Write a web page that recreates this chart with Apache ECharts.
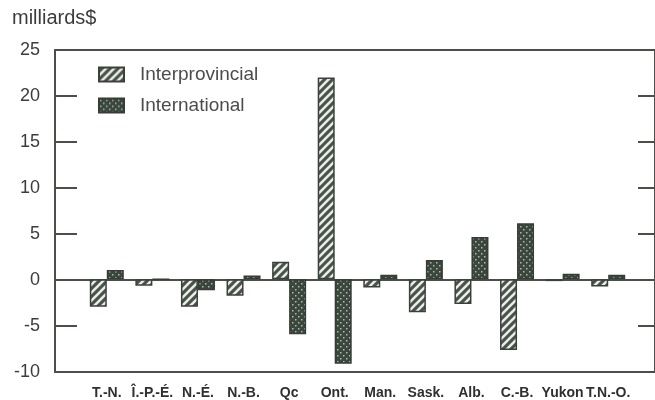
<!DOCTYPE html>
<html><head><meta charset="utf-8">
<script src="https://cdn.jsdelivr.net/npm/echarts@6/dist/echarts.min.js"></script>
<style>html,body{margin:0;padding:0;background:#fff}#c{width:655px;height:400px}</style>
</head><body><div id="c"></div>
<script>
// ---- data ----
const categories = ['T.-N.', 'Î.-P.-É.', 'N.-É.', 'N.-B.', 'Qc', 'Ont.', 'Man.', 'Sask.', 'Alb.', 'C.-B.', 'Yukon', 'T.N.-O.'];
const interprovincial = [-3.0, -0.7, -3.0, -1.8, 1.9, 22.0, -0.9, -3.6, -2.7, -7.7, -0.2, -0.8];
const international   = [1.0, 0.0, -1.2, 0.4, -6.0, -9.2, 0.5, 2.1, 4.6, 6.1, 0.6, 0.5];
const seriesNames = ['Interprovincial', 'International'];
const yMin = -10, yMax = 25, yStep = 5;
const unitLabel = 'milliards$';

// ---- styles ----
const FONT = '"Liberation Sans", Arial, sans-serif';
const LINE = '#4a4f4a';
const TEXT = '#3a3d3a';

function hatchPattern() {
  const c = document.createElement('canvas'); c.width = 8; c.height = 8;
  const g = c.getContext('2d');
  g.fillStyle = '#4a524b'; g.fillRect(0, 0, 8, 8);
  g.strokeStyle = '#e9ece9'; g.lineWidth = 2.6;
  g.beginPath();
  g.moveTo(-2, 10); g.lineTo(10, -2);
  g.moveTo(-2, 2); g.lineTo(2, -2);
  g.moveTo(6, 10); g.lineTo(10, 6);
  g.stroke();
  return c;
}
function dotPattern() {
  const c = document.createElement('canvas'); c.width = 6; c.height = 6;
  const g = c.getContext('2d');
  g.fillStyle = '#3b473d'; g.fillRect(0, 0, 6, 6);
  g.fillStyle = '#aeb8ae';
  g.fillRect(1, 1, 1.5, 1.5);
  g.fillRect(4, 4, 1.5, 1.5);
  return c;
}

const axisLineStyle = { color: LINE, width: 2 };
const hiddenVal = { axisTick: { show: false }, axisLabel: { show: false }, splitLine: { show: false } };

const chart = echarts.init(document.getElementById('c'), null, { renderer: 'canvas' });
chart.setOption({
  animation: false,
  backgroundColor: '#fff',
  textStyle: { fontFamily: FONT },
  title: { text: unitLabel, left: 7, top: 3, textStyle: { fontSize: 20, fontWeight: 'normal', color: TEXT, fontFamily: FONT } },
  legend: {
    data: seriesNames, orient: 'vertical', left: 98, top: 65, padding: 0,
    icon: 'rect', itemWidth: 25, itemHeight: 14, itemGap: 12,
    textStyle: { fontSize: 19, color: '#4a4d4a', fontFamily: FONT, padding: [0, 0, 0, 11] }
  },
  grid: [
    { left: 55, right: -5, top: 50, bottom: 28 },
    { left: 55, right: -5, top: 50, bottom: 28 },
    { left: 84, right: 24, top: 50, bottom: 28 }
  ],
  xAxis: [
    Object.assign({ gridIndex: 0, type: 'value', min: 0, max: 1, position: 'bottom', axisLine: { show: true, onZero: false, lineStyle: axisLineStyle } }, hiddenVal),
    Object.assign({ gridIndex: 0, type: 'value', min: 0, max: 1, position: 'top', axisLine: { show: true, onZero: false, lineStyle: axisLineStyle } }, hiddenVal),
    Object.assign({ gridIndex: 1, type: 'value', min: 0, max: 1, position: 'bottom', axisLine: { show: true, onZero: true, lineStyle: axisLineStyle } }, hiddenVal),
    {
      gridIndex: 2, type: 'category', data: categories,
      axisLine: { show: false }, axisTick: { show: false },
      axisLabel: { interval: 0, fontSize: 14, fontWeight: 'bold', color: '#2e302e', margin: 15, fontFamily: FONT }
    }
  ],
  yAxis: [
    {
      gridIndex: 0, type: 'value', position: 'left', min: yMin, max: yMax, interval: yStep,
      axisLine: { show: true, onZero: false, lineStyle: axisLineStyle },
      axisTick: { show: true, inside: true, length: 22, lineStyle: axisLineStyle },
      axisLabel: { fontSize: 18, color: TEXT, margin: 15, fontFamily: FONT },
      splitLine: { show: false }
    },
    {
      gridIndex: 0, type: 'value', position: 'right', min: yMin, max: yMax, interval: yStep,
      axisLine: { show: true, onZero: false, lineStyle: axisLineStyle },
      axisTick: { show: true, inside: true, length: 17, lineStyle: axisLineStyle },
      axisLabel: { show: false }, splitLine: { show: false }
    },
    { gridIndex: 1, type: 'value', min: yMin, max: yMax, interval: yStep, show: false },
    { gridIndex: 2, type: 'value', min: yMin, max: yMax, interval: yStep, show: false }
  ],
  series: [
    {
      name: seriesNames[0], type: 'bar', xAxisIndex: 3, yAxisIndex: 3, data: interprovincial,
      barWidth: 17, barGap: '0%',
      itemStyle: { color: { image: hatchPattern(), repeat: 'repeat' }, borderColor: '#3a413a', borderWidth: 1.5 }
    },
    {
      name: seriesNames[1], type: 'bar', xAxisIndex: 3, yAxisIndex: 3, data: international,
      barWidth: 17, barGap: '0%',
      itemStyle: { color: { image: dotPattern(), repeat: 'repeat' }, borderColor: '#343d36', borderWidth: 1.5 }
    }
  ]
});
</script></body></html>
